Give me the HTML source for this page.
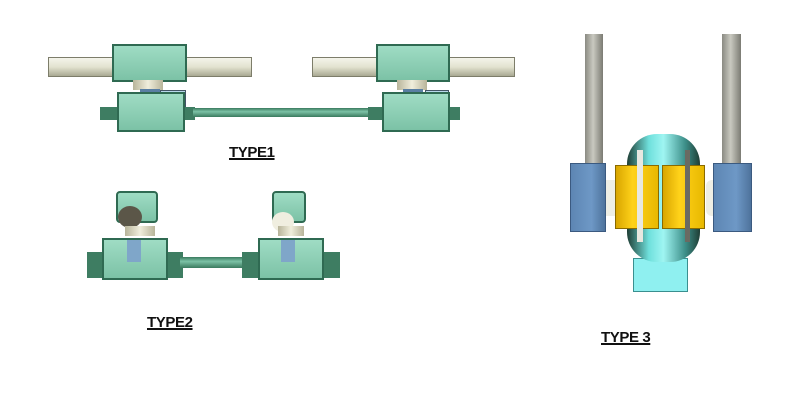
<!DOCTYPE html>
<html><head><meta charset="utf-8"><style>
body{margin:0;width:803px;height:419px;background:#fff;position:relative;overflow:hidden;font-family:"Liberation Sans",sans-serif}
div{position:absolute;box-sizing:border-box}
.rod{background:linear-gradient(#f4f4ea,#e2e2cf 50%,#a9a993);border:1px solid #7d7d6a}
.g{background:linear-gradient(#9fdcc4,#7cc2a6);border:2px solid #2f6a52}
.d{background:#3e7d62}
.w{background:linear-gradient(90deg,#b8b49a,#f0eedc,#b8b49a)}
.lbl{font-weight:bold;font-size:15px;text-decoration:underline;text-decoration-thickness:2px;letter-spacing:-0.4px;color:#111}
.pole{background:linear-gradient(90deg,#8a8a82,#c9c9c0 45%,#7b7b73)}
.blue{background:linear-gradient(90deg,#5d86b3,#6e98c6 60%,#4e739c);border:1px solid #3b5a80}
.y{background:linear-gradient(90deg,#d9a600,#ffd21a 40%,#e8b800);border:1px solid #8a6a00}
</style></head><body>
<div class="rod" style="left:48px;top:57px;width:204px;height:20px"></div>
<div class="g" style="left:112px;top:44px;width:75px;height:38px"></div>
<div class="w" style="left:133px;top:80px;width:30px;height:10px"></div>
<div style="left:140px;top:89px;width:20px;height:5px;background:#5a7fa3"></div>
<div style="left:160px;top:90px;width:26px;height:18px;background:#b8d8ea;border:1px solid #456"></div>
<div class="d" style="left:100px;top:107px;width:95px;height:13px"></div>
<div class="g" style="left:117px;top:92px;width:68px;height:40px"></div>
<div class="d" style="left:193px;top:108px;width:180px;height:9px;background:linear-gradient(#3a7a5e,#7cc2a6 40%,#3a7a5e)"></div>
<div class="rod" style="left:312px;top:57px;width:203px;height:20px"></div>
<div class="g" style="left:376px;top:44px;width:74px;height:38px"></div>
<div class="w" style="left:397px;top:80px;width:30px;height:10px"></div>
<div style="left:403px;top:89px;width:20px;height:5px;background:#5a7fa3"></div>
<div style="left:425px;top:90px;width:24px;height:18px;background:#b8d8ea;border:1px solid #456"></div>
<div class="d" style="left:368px;top:107px;width:92px;height:13px"></div>
<div class="g" style="left:382px;top:92px;width:68px;height:40px"></div>
<div class="lbl" style="left:229px;top:144px">TYPE1</div>
<div class="g" style="left:116px;top:191px;width:42px;height:32px;border-radius:4px"></div>
<div style="left:118px;top:206px;width:24px;height:22px;border-radius:50%;background:#5b5648"></div>
<div class="w" style="left:125px;top:226px;width:30px;height:10px"></div>
<div class="d" style="left:87px;top:252px;width:96px;height:26px"></div>
<div class="g" style="left:102px;top:238px;width:66px;height:42px"></div>
<div style="left:127px;top:240px;width:14px;height:22px;background:#7fa6c9"></div>
<div style="left:180px;top:257px;width:66px;height:11px;background:linear-gradient(#3a7a5e,#7cc2a6 40%,#3a7a5e)"></div>
<div class="g" style="left:272px;top:191px;width:34px;height:32px;border-radius:4px"></div>
<div style="left:272px;top:212px;width:22px;height:20px;border-radius:50%;background:#f0eee0"></div>
<div class="w" style="left:278px;top:226px;width:26px;height:10px"></div>
<div class="d" style="left:242px;top:252px;width:98px;height:26px"></div>
<div class="g" style="left:258px;top:238px;width:66px;height:42px"></div>
<div style="left:281px;top:240px;width:14px;height:22px;background:#7fa6c9"></div>
<div class="lbl" style="left:147px;top:314px">TYPE2</div>
<div class="pole" style="left:585px;top:34px;width:18px;height:132px"></div>
<div class="pole" style="left:722px;top:34px;width:19px;height:132px"></div>
<div style="left:600px;top:180px;width:20px;height:36px;background:#eeeee4;border-radius:6px"></div>
<div style="left:706px;top:180px;width:18px;height:36px;background:#eeeee4;border-radius:6px"></div>
<div class="blue" style="left:570px;top:163px;width:36px;height:69px"></div>
<div class="blue" style="left:713px;top:163px;width:39px;height:69px"></div>
<div style="left:633px;top:258px;width:55px;height:34px;background:#8ff0f0;border:1px solid #3a8f8f"></div>
<div style="left:627px;top:134px;width:73px;height:128px;border-radius:30px;background:linear-gradient(90deg,#1f3e35,#6fe0dc 30%,#9ff5f2 50%,#3c8e88 80%,#1f3e35)"></div>
<div class="y" style="left:615px;top:165px;width:44px;height:64px"></div>
<div class="y" style="left:662px;top:165px;width:43px;height:64px"></div>
<div style="left:637px;top:150px;width:6px;height:92px;background:#e8e8e0"></div>
<div style="left:685px;top:150px;width:5px;height:92px;background:#6a6a62"></div>
<div class="lbl" style="left:601px;top:329px">TYPE 3</div>
</body></html>
